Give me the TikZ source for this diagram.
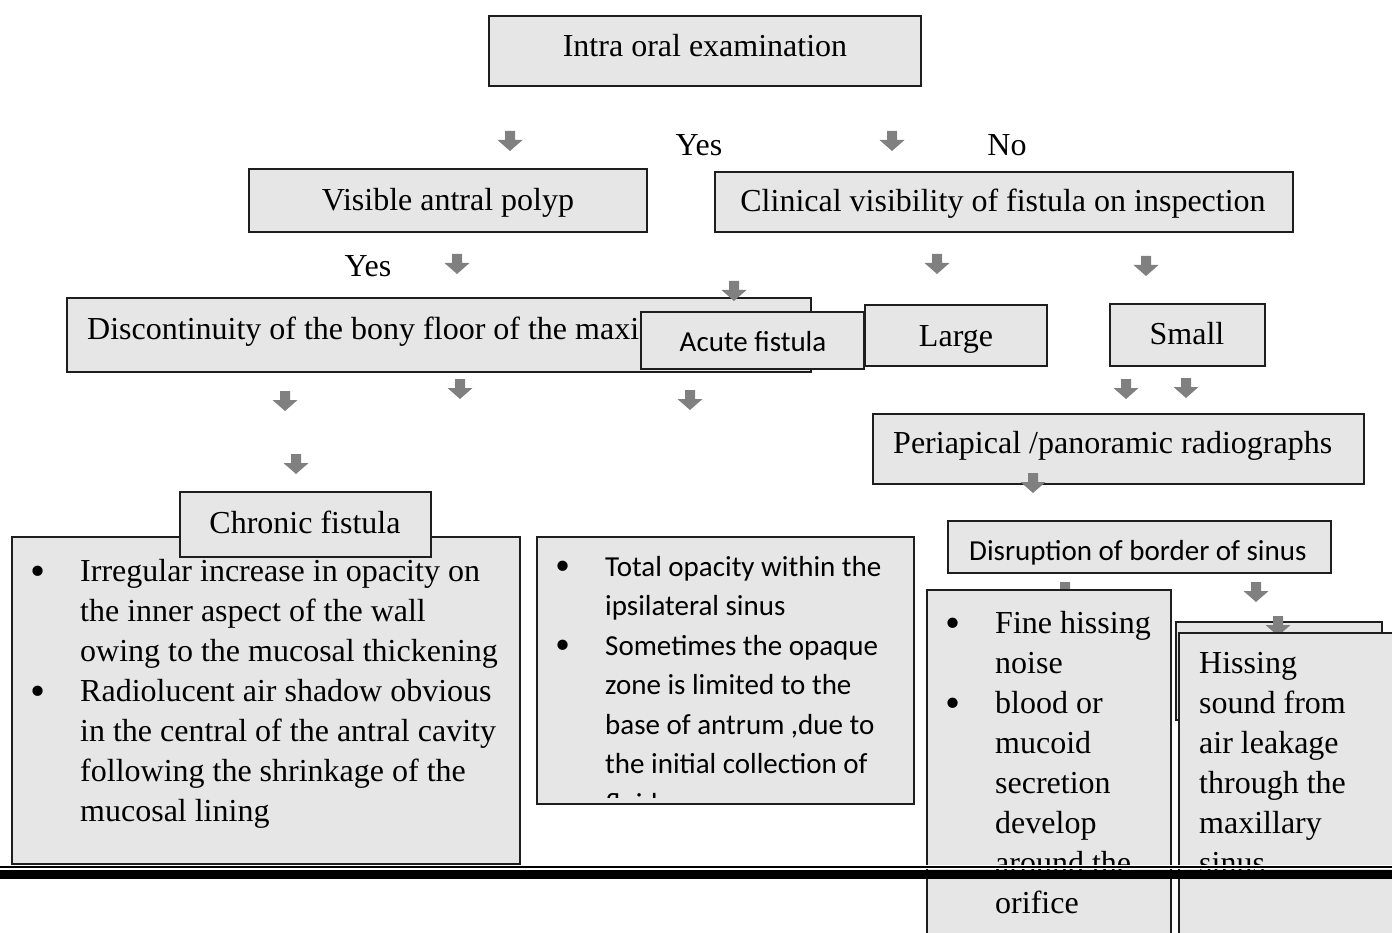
\documentclass[tikz,border=0pt]{standalone}
\usepackage{fontspec}
\setmainfont{Liberation Serif}
\newfontfamily\calibri{Carlito}
\definecolor{boxfill}{RGB}{231,230,230}
\definecolor{boxline}{RGB}{30,30,30}
\definecolor{arrowgray}{RGB}{128,128,128}
\newcommand\bul{\leavevmode\llap{\hbox to 84pt{\hss\raisebox{-4.5pt}{\fontsize{43}{40}\selectfont\rmfamily\textbullet}\hss}}}
\tikzset{
  box/.style={draw=boxline, fill=boxfill, line width=1.8pt, inner sep=0pt, outer sep=0pt, anchor=north west},
  serif/.style={font=\fontsize{32}{40}\selectfont, inner sep=0pt},
  sans/.style={font=\calibri\fontsize{29}{39.5}\selectfont, inner sep=0pt},
  darr/.pic={\fill[arrowgray] (-5,0) -- (5,0) -- (5,9) -- (12.5,9) -- (0,20) -- (-12.5,9) -- (-5,9) -- cycle;}
}
\begin{document}
\begin{tikzpicture}[x=1pt,y=-1pt]
\clip (0,0) rectangle (1392,933);
\fill[white] (0,0) rectangle (1392,933);
% top level
\node[box, minimum width=432pt, minimum height=70pt] (intra) at (489,16) {};
\node[serif, anchor=base] (tintra) at (705,57) {Intra oral examination};
\pic at (510,131) {darr};
\pic at (892,131) {darr};
\node[serif, anchor=base] (yes1) at (699,156) {Yes};
\node[serif, anchor=base] (no1) at (1007,156) {No};
% second level
\node[box, minimum width=398pt, minimum height=63pt] (polyp) at (249,169) {};
\node[serif, anchor=base] (tpolyp) at (448,211) {Visible antral polyp};
\node[box, minimum width=578pt, minimum height=60pt] (clin) at (715,172) {};
\node[serif, anchor=base] (tclin) at (1003,212) {Clinical visibility of fistula on inspection};
\node[serif, anchor=base] (yes2) at (368,277) {Yes};
\pic at (457,254) {darr};
\pic at (937,254) {darr};
\pic at (1146,256) {darr};
% third level
\node[box, minimum width=744pt, minimum height=74pt] (disc) at (67,298) {};
\node[serif, anchor=base west] (tdisc) at (87,339) {Discontinuity of the bony floor of the maxi};
\pic at (734,281) {darr};
\node[box, minimum width=223pt, minimum height=57pt] (acute) at (641,312) {};
\node[sans, anchor=base] (tacute) at (753,351) {Acute fistula};
\node[box, minimum width=182pt, minimum height=61pt] (large) at (865,305) {};
\node[serif, anchor=base] (tlarge) at (956,346) {Large};
\node[box, minimum width=155pt, minimum height=62pt] (small) at (1110,304) {};
\node[serif, anchor=base] (tsmall) at (1187,344) {Small};
\pic at (285,391) {darr};
\pic at (460,379) {darr};
\pic at (690,390) {darr};
\pic at (296,454) {darr};
\pic at (1126,379) {darr};
\pic at (1186,378) {darr};
% periapical
\node[box, minimum width=491pt, minimum height=70pt] (peri) at (873,414) {};
\node[serif, anchor=base west] (tperi) at (893,453) {Periapical /panoramic radiographs};
\pic at (1033,473) {darr};
% left bullet box
\node[box, minimum width=508pt, minimum height=327pt] (leftbox) at (12,537) {};
\node[serif, anchor=base west] (tleft) at (80,581) {\begin{minipage}[t]{440pt}\fontsize{32}{40}\selectfont\raggedright
\bul Irregular increase in opacity on\\
the inner aspect of the wall\\
owing to the mucosal thickening\\
\bul Radiolucent air shadow obvious\\
in the central of the antral cavity\\
following the shrinkage of the\\
mucosal lining\end{minipage}};
\node[box, minimum width=251pt, minimum height=65pt] (chronic) at (180,492) {};
\node[serif, anchor=base] (tchronic) at (305,533) {Chronic fistula};
% middle bullet box
\node[box, minimum width=377pt, minimum height=267pt] (midbox) at (537,537) {};
\begin{scope}
\clip (537,537) rectangle (914,797);
\node[sans, anchor=base west] (tmid) at (605,576) {\begin{minipage}[t]{300pt}\calibri\fontsize{29}{39.5}\selectfont\raggedright
\bul Total opacity within the\\
ipsilateral sinus\\
\bul Sometimes the opaque\\
zone is limited to the\\
base of antrum ,due to\\
the initial collection of\\
fluid\end{minipage}};
\end{scope}
% disruption
\node[box, minimum width=383pt, minimum height=52pt] (disr) at (948,521) {};
\node[sans, anchor=base west] (tdisr) at (969,560) {Disruption of border of sinus};
\pic at (1065,582) {darr};
\pic at (1256,582) {darr};
% fine hissing box
\node[box, minimum width=244pt, minimum height=380pt] (finebox) at (927,590) {};
\node[serif, anchor=base west] (tfine) at (995,633) {\begin{minipage}[t]{170pt}\fontsize{32}{40}\selectfont\raggedright
\bul Fine hissing\\
noise\\
\bul blood or\\
mucoid\\
secretion\\
develop\\
around the\\
orifice\end{minipage}};
% hissing boxes
\node[box, minimum width=206pt, minimum height=98pt] (hissback) at (1176,622) {};
\pic at (1278,616) {darr};
\node[box, minimum width=240pt, minimum height=340pt] (hissfront) at (1179,633) {};
\node[serif, anchor=base west] (thiss) at (1199,673) {\begin{minipage}[t]{190pt}\fontsize{32}{40}\selectfont\raggedright
Hissing\\
sound from\\
air leakage\\
through the\\
maxillary\\
sinus\end{minipage}};
% page break bar
\fill[white] (0,865) rectangle (1392,869);
\draw[black, line width=1.8pt] (0,867) -- (1392,867);
\fill[black] (0,869.5) rectangle (1392,879);
\end{tikzpicture}
\end{document}
